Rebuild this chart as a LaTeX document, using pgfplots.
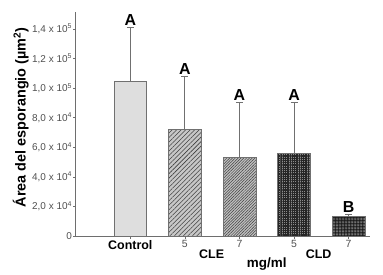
\documentclass[border=0pt]{standalone}
\usepackage{fontspec}
\setmainfont{Liberation Sans}
\usepackage{pgfplots}
\pgfplotsset{compat=1.18}
\usetikzlibrary{patterns.meta}
\definecolor{axgray}{HTML}{6E6E6E}
\definecolor{edge}{HTML}{707070}
\definecolor{tickgray}{HTML}{505050}
\begin{document}
\begin{tikzpicture}
\path[use as bounding box] (-75.7bp,-39bp) rectangle (307.3bp,236bp);
\begin{axis}[
  scale only axis,
  width=294.8bp, height=224bp,
  xmin=-1, xmax=4.4, ymin=0, ymax=151500,
  scaled y ticks=false,
  axis lines=left,
  axis line style={axgray, line width=0.9pt, -},
  ybar, bar width=0.6, bar shift=0pt,
  xtick={0,1,2,3,4},
  xticklabels={{\fontsize{12.5}{14}\selectfont\bfseries\color{black}Control},5,7,5,7},
  x tick label style={font=\fontsize{10.5}{11}\selectfont, text=tickgray, inner sep=1.5pt},
  ytick={0,20000,40000,60000,80000,100000,120000,140000},
  yticklabels={0, {2,0 x 10\textsuperscript{4}}, {4,0 x 10\textsuperscript{4}}, {6,0 x 10\textsuperscript{4}}, {8,0 x 10\textsuperscript{4}}, {1,0 x 10\textsuperscript{5}}, {1,2 x 10\textsuperscript{5}}, {1,4 x 10\textsuperscript{5}}},
  y tick label style={font=\fontsize{10}{11}\selectfont, text=tickgray, inner sep=1pt},
  tick style={axgray, line width=0.6pt},
  major tick length=2.5bp,
  tick align=outside,
  ylabel={\fontsize{14.5}{16}\selectfont\bfseries Área del esporangio (µm\textsuperscript{2})},
  ylabel style={at={(axis description cs:-0.186,0.53)}, anchor=center},
  error bars/y dir=plus, error bars/y explicit,
  error bars/error bar style={edge, line width=0.8pt},
  error bars/error mark options={rotate=90, mark size=3.5bp, edge, line width=0.8pt},
  clip=false,
]
\addplot[draw=edge, line width=0.6pt, fill=black!13] table[x=x,y=y,y error=e] {
x y e
0 104700 36300
};
\addplot[draw=edge, line width=0.6pt, fill=black!22, postaction={pattern={Lines[angle=45,distance=3.2pt,line width=0.55pt]}, pattern color=black!75}] table[x=x,y=y,y error=e] {
x y e
1 72300 35800
};
\addplot[draw=edge, line width=0.6pt, fill=black!25, postaction={pattern={Lines[angle=45,distance=2pt,line width=0.5pt]}, pattern color=black!75}] table[x=x,y=y,y error=e] {
x y e
2 52900 37600
};
\addplot[draw=edge, line width=0.6pt, fill=black!45, postaction={pattern={Hatch[angle=0,distance=1.8pt,line width=0.45pt]}, pattern color=black!85}] table[x=x,y=y,y error=e] {
x y e
3 55600 34900
};
\addplot[draw=edge, line width=0.6pt, fill=black!90, postaction={pattern={Dots[distance=1.5pt,radius=0.45pt]}, pattern color=black!30}] table[x=x,y=y,y error=e] {
x y e
4 13300 1600
};
\addplot[draw=none, fill=none, mark=none, nodes near coords, point meta=explicit symbolic,
  nodes near coords style={anchor=south, font=\fontsize{16}{18}\selectfont\bfseries, text=black, inner sep=0.5pt, yshift=1bp}] table[x=x,y=y,meta=l] {
x y l
0 141000 A
1 108100 A
2 90500 A
3 90500 A
4 14900 B
};
\node[font=\fontsize{12.5}{14}\selectfont\bfseries] at ([yshift=-18bp]axis cs:1.49,0) {CLE};
\node[font=\fontsize{12.5}{14}\selectfont\bfseries] at ([yshift=-18bp]axis cs:3.45,0) {CLD};
\node[font=\fontsize{13.5}{15}\selectfont\bfseries] at ([yshift=-28bp]axis cs:2.5,0) {mg/ml};
\end{axis}
\end{tikzpicture}
\end{document}
